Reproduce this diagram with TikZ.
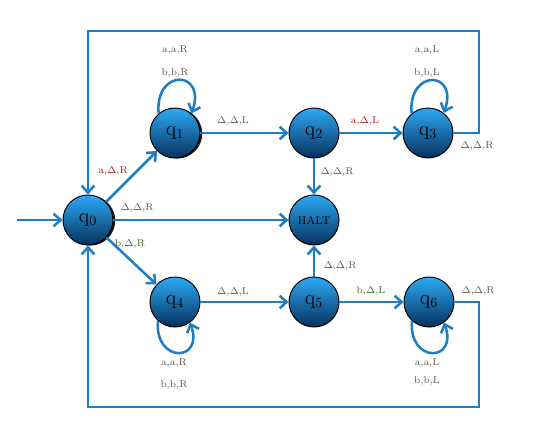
\documentclass[tikz,border=0pt]{standalone}
\usetikzlibrary{arrows.meta,shadows}
\definecolor{edgeblue}{RGB}{30,125,195}
\definecolor{topblue}{RGB}{45,170,245}
\definecolor{midblue}{RGB}{28,132,212}
\definecolor{botblue}{RGB}{6,48,92}
\definecolor{labgray}{RGB}{90,85,78}
\definecolor{labred}{RGB}{170,20,20}
\definecolor{labgreen}{RGB}{60,100,30}
\begin{document}
\begin{tikzpicture}[state/.style={circle, minimum size=1.25cm, inner sep=0pt, draw=black, line width=0.7pt, top color=topblue, middle color=midblue, bottom color=botblue, font=\Large},
	shadowed/.style={drop shadow={shadow xshift=1.6pt, shadow yshift=-0.4pt, fill=black, opacity=0.9}},
	trans/.style={draw=edgeblue, line width=1.8pt, -{Straight Barb[length=5pt, width=9pt]}},
	lab/.style={font=\scriptsize, text=labgray, inner sep=1pt}]
	\useasboundingbox (0, 0) rectangle (13.4, 10.725);

	\node[state, shadowed] (q0) at (2.2, 5.225) {q$_0$};
	\node[state, shadowed] (q1) at (4.375, 7.4) {q$_1$};
	\node[state] (q2) at (7.85, 7.4) {q$_2$};
	\node[state] (q3) at (10.7, 7.4) {q$_3$};
	\node[state, font=\footnotesize] (halt) at (7.85, 5.225) {HALT};
	\node[state] (q4) at (4.375, 3.175) {q$_4$};
	\node[state] (q5) at (7.85, 3.175) {q$_5$};
	\node[state] (q6) at (10.725, 3.175) {q$_6$};

	\coordinate (start) at (0.425, 5.225);
	\coordinate (top-right) at (11.975, 9.95);
	\coordinate (bottom-right) at (11.975, 0.55);

	\draw[trans] (start) -- (q0);
	\draw[trans] (q0) -- (q1);
	\draw[trans] (q0) -- (halt);
	\draw[trans] (q0) -- (q4);
	\draw[trans] (q1) -- (q2);
	\draw[trans] (q2) -- (q3);
	\draw[trans] (q2) -- (halt);
	\draw[trans] (q4) -- (q5);
	\draw[trans] (q5) -- (halt);
	\draw[trans] (q5) -- (q6);
	\draw[trans] (q1.130) to[out=95, in=70, looseness=3.6] (q1.50);
	\draw[trans] (q3.130) to[out=95, in=70, looseness=3.6] (q3.52);
	\draw[trans] (q4.228) to[out=265, in=290, looseness=3.4] (q4.306);
	\draw[trans] (q6.228) to[out=265, in=290, looseness=3.4] (q6.306);
	\draw[trans] (q3.east) -| (top-right) -| (q0.north);
	\draw[trans] (q6.east) -| (bottom-right) -| (q0.south);

	% labels of the transitions
	\node[lab] (l-q1-a) at (4.375, 9.475) {a,a,R};
	\node[lab] (l-q1-b) at (4.375, 8.9) {b,b,R};
	\node[lab] (l-q1-q2) at (5.825, 7.7) {$\Delta$,$\Delta$,L};
	\node[lab, text=labred] (l-q0-q1) at (2.825, 6.45) {a,$\Delta$,R};
	\node[lab] (l-q3-a) at (10.675, 9.475) {a,a,L};
	\node[lab] (l-q3-b) at (10.675, 8.9) {b,b,L};
	\node[lab, text=labred] (l-q2-q3) at (9.125, 7.7) {a,$\Delta$,L};
	\node[lab] (l-q3-q0) at (11.925, 7.075) {$\Delta$,$\Delta$,R};
	\node[lab] (l-q2-halt) at (8.425, 6.425) {$\Delta$,$\Delta$,R};
	\node[lab] (l-q0-halt) at (3.425, 5.525) {$\Delta$,$\Delta$,R};
	\node[lab, text=labgreen] (l-q0-q4) at (3.25, 4.625) {b,$\Delta$,R};
	\node[lab] (l-q5-halt) at (8.5, 4.075) {$\Delta$,$\Delta$,R};
	\node[lab] (l-q4-q5) at (5.825, 3.425) {$\Delta$,$\Delta$,L};
	\node[lab] (l-q4-a) at (4.35, 1.65) {a,a,R};
	\node[lab] (l-q4-b) at (4.35, 1.1) {b,b,R};
	\node[lab, text=labgreen] (l-q5-q6) at (9.275, 3.45) {b,$\Delta$,L};
	\node[lab] (l-q6-q0) at (11.95, 3.45) {$\Delta$,$\Delta$,R};
	\node[lab] (l-q6-a) at (10.675, 1.65) {a,a,L};
	\node[lab] (l-q6-b) at (10.675, 1.2) {b,b,L};
\end{tikzpicture}
\end{document}
